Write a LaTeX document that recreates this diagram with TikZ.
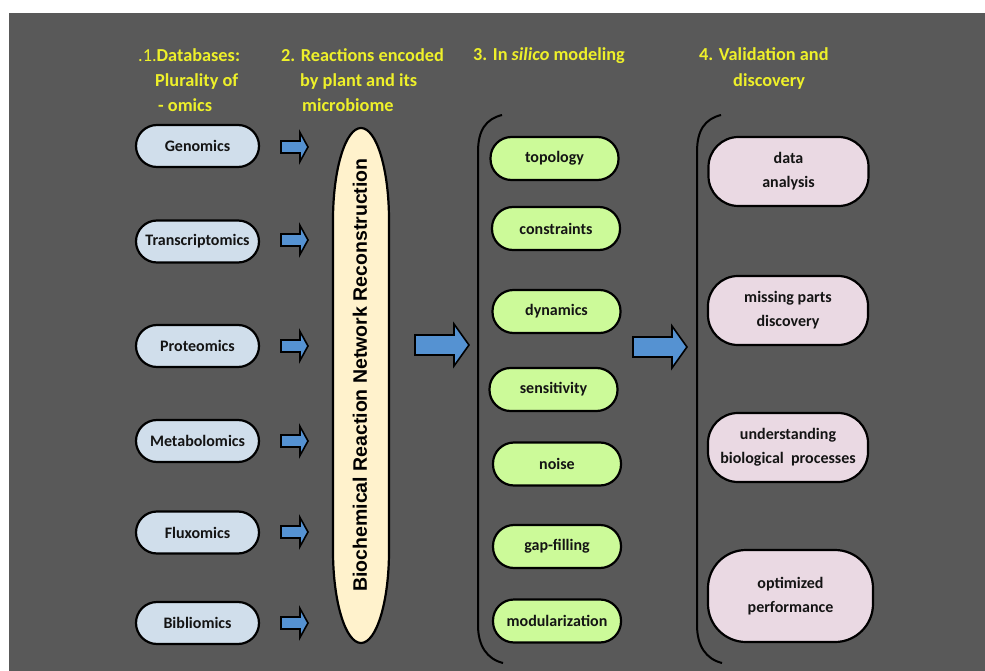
\documentclass[tikz,border=0pt]{standalone}
\usepackage{fontspec}
\setmainfont{Carlito}
\newfontfamily\arialfont{Liberation Sans}
\usetikzlibrary{shapes.geometric}
\definecolor{bgray}{HTML}{595959}
\definecolor{hdryellow}{HTML}{EEF02A}
\definecolor{omicfill}{HTML}{D0DEEB}
\definecolor{greenfill}{HTML}{CCFA99}
\definecolor{pinkfill}{HTML}{EAD9E3}
\definecolor{ellfill}{HTML}{FFF2CC}
\definecolor{arrblue}{HTML}{5592D2}
\definecolor{boxtext}{HTML}{141414}
\begin{document}
\begin{tikzpicture}[x=1pt,y=-1pt,
  hdr/.style={inner sep=0pt, text=hdryellow, font=\fontsize{18.3}{22}\selectfont\bfseries},
  boxbase/.style={draw=black, line width=2.2pt, inner sep=0pt, text=boxtext, align=center,
    font=\fontsize{16}{24}\selectfont\bfseries},
  omicbox/.style={boxbase, fill=omicfill, rounded corners=21pt, minimum width=123pt, minimum height=42pt},
  greenbox/.style={boxbase, fill=greenfill, rounded corners=21pt, minimum width=128pt, minimum height=43pt},
  pinkbox/.style={boxbase, fill=pinkfill, rounded corners=30pt, minimum width=160pt, minimum height=69pt},
  ellstyle/.style={draw=black, line width=2.2pt, fill=ellfill},
  barrow/.style={draw=black, line width=1.6pt, fill=arrblue, line join=miter},
  bracket/.style={draw=black, line width=2pt},
  smallarr/.pic={\path[barrow] (0,-6) -- (19,-6) -- (19,-14.5) -- (27,0) -- (19,14.5) -- (19,6) -- (0,6) -- cycle;},
  bigarr/.pic={\path[barrow] (0,-10) -- (39,-10) -- (39,-21) -- (54,0) -- (39,21) -- (39,10) -- (0,10) -- cycle;}
]
\useasboundingbox (0,0) rectangle (985,671);
\fill[white] (0,0) rectangle (985,671);
\fill[bgray] (9,13) rectangle (985,671);

% headers
\node[hdr, anchor=base west] (h1a) at (138,62) {{\mdseries .1.}Databases:};
\node[hdr, anchor=base west] (h1b) at (155,87) {Plurality of};
\node[hdr, anchor=base west] (h1c) at (158,112) {- omics};
\node[hdr, anchor=base west] (h2a) at (281,62) {2. Reactions encoded};
\node[hdr, anchor=base west] (h2b) at (300,87) {by plant and its};
\node[hdr, anchor=base west] (h2c) at (302,112) {microbiome};
\node[hdr, anchor=base west] (h3) at (473,61) {3. In \textit{silico} modeling};
\node[hdr, anchor=base west] (h4a) at (699,61) {4. Validation and};
\node[hdr, anchor=base west] (h4b) at (733,87) {discovery};

% omics boxes
\node[omicbox] (gen) at (197.5,146) {Genomics};
\node[omicbox] (tra) at (197.5,241.5) {Transcriptomics};
\node[omicbox] (pro) at (197.5,346) {Proteomics};
\node[omicbox] (met) at (197.5,441) {Metabolomics};
\node[omicbox] (flu) at (197.5,532.5) {Fluxomics};
\node[omicbox] (bib) at (197.5,623) {Bibliomics};

% small arrows
\foreach \yy in {147,240,346,441,532,623} {\pic at (281,\yy) {smallarr};}

% elongated ellipse
\path[ellstyle] (333,220) arc[start angle=180, end angle=360, x radius=28, y radius=92]
  -- (389,551) arc[start angle=0, end angle=180, x radius=28, y radius=92] -- cycle;
\node[rotate=90, inner sep=0pt, text=black, font=\arialfont\fontsize{19.5}{22}\selectfont\bfseries] (elltext) at (360,375) {Biochemical Reaction Network Reconstruction};

% big arrows
\pic at (415,345) {bigarr};
\pic at (633,347) {bigarr};

% brackets
\path[bracket] (502,115) .. controls (486,119) and (478,130) .. (478,152) -- (478,625) .. controls (478,646) and (487,659) .. (503,663);
\path[bracket] (721,115) .. controls (705,119) and (697,130) .. (697,152) -- (697,625) .. controls (697,646) and (706,659) .. (722,663);

% modeling boxes
\node[greenbox] (top) at (554.5,158.5) {topology};
\node[greenbox] (con) at (556,228.5) {constraints};
\node[greenbox] (dyn) at (556.5,311.5) {dynamics};
\node[greenbox] (sen) at (553.5,389.5) {sensitivity};
\node[greenbox] (noi) at (557,464) {noise};
\node[greenbox] (gap) at (557,546.5) {gap-filling};
\node[greenbox] (mod) at (557,621) {modularization};

% validation boxes
\node[pinkbox] (dat) at (788.5,171.5) {data\\analysis};
\node[pinkbox] (mis) at (788,310.5) {missing parts\\discovery};
\node[pinkbox] (und) at (788,447.5) {understanding\\biological\ \ processes};
\node[pinkbox, minimum width=165pt, minimum height=92pt, rounded corners=38pt] (opt) at (790.5,596) {optimized\\performance};
\end{tikzpicture}
\end{document}
